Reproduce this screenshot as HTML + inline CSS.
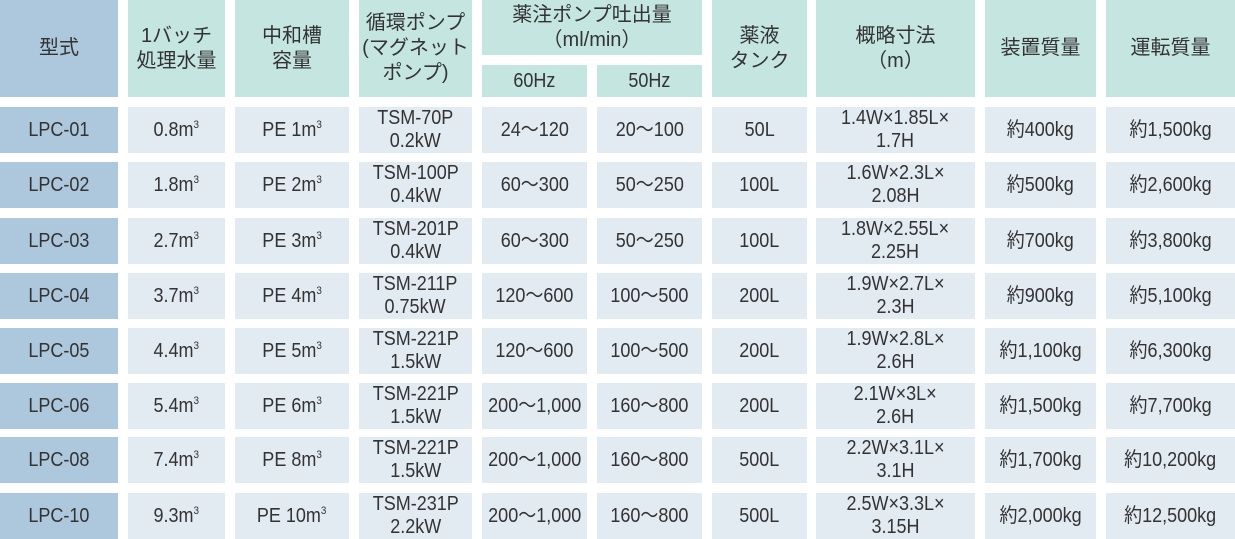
<!DOCTYPE html>
<html><head><meta charset="utf-8"><style>
body{margin:0;width:1235px;height:539px;background:#fff;position:relative;overflow:hidden;font-family:"Liberation Sans","Noto Sans CJK JP",sans-serif;color:#333;}
.c{position:absolute;display:flex;align-items:center;justify-content:center;text-align:center;font-size:20px;line-height:23px;background:#e2eaf2;white-space:nowrap;}
.c>span{display:inline-block;transform:scaleX(.9);}
.h{background:#c5e6e0;font-size:20px;line-height:25px;}
.h>span{transform:none;}
.h>span.n{transform:scaleX(.9);}
.m{background:#adc8dd;}
sup{font-size:11px;vertical-align:8px;line-height:0;}
</style></head><body>
<div class="c h" style="left:0;top:0;width:118px;height:97px;background:#adc8dd"><span>型式</span></div>
<div class="c h" style="left:128px;top:0;width:97px;height:97px"><span>1バッチ<br>処理水量</span></div>
<div class="c h" style="left:235px;top:0;width:114px;height:97px"><span>中和槽<br>容量</span></div>
<div class="c h" style="left:359px;top:0;width:113px;height:97px"><span>循環ポンプ<br>(マグネット<br>ポンプ)</span></div>
<div class="c h" style="left:482px;top:0;width:220px;height:55px"><span>薬注ポンプ吐出量<br>（ml/min）</span></div>
<div class="c h" style="left:482px;top:65px;width:105px;height:32px"><span class="n">60Hz</span></div>
<div class="c h" style="left:597px;top:65px;width:105px;height:32px"><span class="n">50Hz</span></div>
<div class="c h" style="left:712px;top:0;width:95px;height:97px"><span>薬液<br>タンク</span></div>
<div class="c h" style="left:816px;top:0;width:159px;height:97px"><span>概略寸法<br>（m）</span></div>
<div class="c h" style="left:985px;top:0;width:111px;height:97px"><span>装置質量</span></div>
<div class="c h" style="left:1106px;top:0;width:129px;height:97px"><span>運転質量</span></div>

<div class="c m" style="left:0;top:107px;width:118px;height:46px"><span>LPC-01</span></div>
<div class="c" style="left:128px;top:107px;width:97px;height:46px"><span>0.8m<sup>3</sup></span></div>
<div class="c" style="left:235px;top:107px;width:114px;height:46px"><span>PE 1m<sup>3</sup></span></div>
<div class="c" style="left:359px;top:107px;width:113px;height:46px"><span>TSM-70P<br>0.2kW</span></div>
<div class="c" style="left:482px;top:107px;width:105px;height:46px"><span>24～120</span></div>
<div class="c" style="left:597px;top:107px;width:105px;height:46px"><span>20～100</span></div>
<div class="c" style="left:712px;top:107px;width:95px;height:46px"><span>50L</span></div>
<div class="c" style="left:816px;top:107px;width:159px;height:46px"><span>1.4W×1.85L×<br>1.7H</span></div>
<div class="c" style="left:985px;top:107px;width:111px;height:46px"><span>約400kg</span></div>
<div class="c" style="left:1106px;top:107px;width:129px;height:46px"><span>約1,500kg</span></div>

<div class="c m" style="left:0;top:162px;width:118px;height:46px"><span>LPC-02</span></div>
<div class="c" style="left:128px;top:162px;width:97px;height:46px"><span>1.8m<sup>3</sup></span></div>
<div class="c" style="left:235px;top:162px;width:114px;height:46px"><span>PE 2m<sup>3</sup></span></div>
<div class="c" style="left:359px;top:162px;width:113px;height:46px"><span>TSM-100P<br>0.4kW</span></div>
<div class="c" style="left:482px;top:162px;width:105px;height:46px"><span>60～300</span></div>
<div class="c" style="left:597px;top:162px;width:105px;height:46px"><span>50～250</span></div>
<div class="c" style="left:712px;top:162px;width:95px;height:46px"><span>100L</span></div>
<div class="c" style="left:816px;top:162px;width:159px;height:46px"><span>1.6W×2.3L×<br>2.08H</span></div>
<div class="c" style="left:985px;top:162px;width:111px;height:46px"><span>約500kg</span></div>
<div class="c" style="left:1106px;top:162px;width:129px;height:46px"><span>約2,600kg</span></div>

<div class="c m" style="left:0;top:218px;width:118px;height:46px"><span>LPC-03</span></div>
<div class="c" style="left:128px;top:218px;width:97px;height:46px"><span>2.7m<sup>3</sup></span></div>
<div class="c" style="left:235px;top:218px;width:114px;height:46px"><span>PE 3m<sup>3</sup></span></div>
<div class="c" style="left:359px;top:218px;width:113px;height:46px"><span>TSM-201P<br>0.4kW</span></div>
<div class="c" style="left:482px;top:218px;width:105px;height:46px"><span>60～300</span></div>
<div class="c" style="left:597px;top:218px;width:105px;height:46px"><span>50～250</span></div>
<div class="c" style="left:712px;top:218px;width:95px;height:46px"><span>100L</span></div>
<div class="c" style="left:816px;top:218px;width:159px;height:46px"><span>1.8W×2.55L×<br>2.25H</span></div>
<div class="c" style="left:985px;top:218px;width:111px;height:46px"><span>約700kg</span></div>
<div class="c" style="left:1106px;top:218px;width:129px;height:46px"><span>約3,800kg</span></div>

<div class="c m" style="left:0;top:273px;width:118px;height:46px"><span>LPC-04</span></div>
<div class="c" style="left:128px;top:273px;width:97px;height:46px"><span>3.7m<sup>3</sup></span></div>
<div class="c" style="left:235px;top:273px;width:114px;height:46px"><span>PE 4m<sup>3</sup></span></div>
<div class="c" style="left:359px;top:273px;width:113px;height:46px"><span>TSM-211P<br>0.75kW</span></div>
<div class="c" style="left:482px;top:273px;width:105px;height:46px"><span>120～600</span></div>
<div class="c" style="left:597px;top:273px;width:105px;height:46px"><span>100～500</span></div>
<div class="c" style="left:712px;top:273px;width:95px;height:46px"><span>200L</span></div>
<div class="c" style="left:816px;top:273px;width:159px;height:46px"><span>1.9W×2.7L×<br>2.3H</span></div>
<div class="c" style="left:985px;top:273px;width:111px;height:46px"><span>約900kg</span></div>
<div class="c" style="left:1106px;top:273px;width:129px;height:46px"><span>約5,100kg</span></div>

<div class="c m" style="left:0;top:328px;width:118px;height:46px"><span>LPC-05</span></div>
<div class="c" style="left:128px;top:328px;width:97px;height:46px"><span>4.4m<sup>3</sup></span></div>
<div class="c" style="left:235px;top:328px;width:114px;height:46px"><span>PE 5m<sup>3</sup></span></div>
<div class="c" style="left:359px;top:328px;width:113px;height:46px"><span>TSM-221P<br>1.5kW</span></div>
<div class="c" style="left:482px;top:328px;width:105px;height:46px"><span>120～600</span></div>
<div class="c" style="left:597px;top:328px;width:105px;height:46px"><span>100～500</span></div>
<div class="c" style="left:712px;top:328px;width:95px;height:46px"><span>200L</span></div>
<div class="c" style="left:816px;top:328px;width:159px;height:46px"><span>1.9W×2.8L×<br>2.6H</span></div>
<div class="c" style="left:985px;top:328px;width:111px;height:46px"><span>約1,100kg</span></div>
<div class="c" style="left:1106px;top:328px;width:129px;height:46px"><span>約6,300kg</span></div>

<div class="c m" style="left:0;top:383px;width:118px;height:46px"><span>LPC-06</span></div>
<div class="c" style="left:128px;top:383px;width:97px;height:46px"><span>5.4m<sup>3</sup></span></div>
<div class="c" style="left:235px;top:383px;width:114px;height:46px"><span>PE 6m<sup>3</sup></span></div>
<div class="c" style="left:359px;top:383px;width:113px;height:46px"><span>TSM-221P<br>1.5kW</span></div>
<div class="c" style="left:482px;top:383px;width:105px;height:46px"><span>200～1,000</span></div>
<div class="c" style="left:597px;top:383px;width:105px;height:46px"><span>160～800</span></div>
<div class="c" style="left:712px;top:383px;width:95px;height:46px"><span>200L</span></div>
<div class="c" style="left:816px;top:383px;width:159px;height:46px"><span>2.1W×3L×<br>2.6H</span></div>
<div class="c" style="left:985px;top:383px;width:111px;height:46px"><span>約1,500kg</span></div>
<div class="c" style="left:1106px;top:383px;width:129px;height:46px"><span>約7,700kg</span></div>

<div class="c m" style="left:0;top:437px;width:118px;height:46px"><span>LPC-08</span></div>
<div class="c" style="left:128px;top:437px;width:97px;height:46px"><span>7.4m<sup>3</sup></span></div>
<div class="c" style="left:235px;top:437px;width:114px;height:46px"><span>PE 8m<sup>3</sup></span></div>
<div class="c" style="left:359px;top:437px;width:113px;height:46px"><span>TSM-221P<br>1.5kW</span></div>
<div class="c" style="left:482px;top:437px;width:105px;height:46px"><span>200～1,000</span></div>
<div class="c" style="left:597px;top:437px;width:105px;height:46px"><span>160～800</span></div>
<div class="c" style="left:712px;top:437px;width:95px;height:46px"><span>500L</span></div>
<div class="c" style="left:816px;top:437px;width:159px;height:46px"><span>2.2W×3.1L×<br>3.1H</span></div>
<div class="c" style="left:985px;top:437px;width:111px;height:46px"><span>約1,700kg</span></div>
<div class="c" style="left:1106px;top:437px;width:129px;height:46px"><span>約10,200kg</span></div>

<div class="c m" style="left:0;top:493px;width:118px;height:46px"><span>LPC-10</span></div>
<div class="c" style="left:128px;top:493px;width:97px;height:46px"><span>9.3m<sup>3</sup></span></div>
<div class="c" style="left:235px;top:493px;width:114px;height:46px"><span>PE 10m<sup>3</sup></span></div>
<div class="c" style="left:359px;top:493px;width:113px;height:46px"><span>TSM-231P<br>2.2kW</span></div>
<div class="c" style="left:482px;top:493px;width:105px;height:46px"><span>200～1,000</span></div>
<div class="c" style="left:597px;top:493px;width:105px;height:46px"><span>160～800</span></div>
<div class="c" style="left:712px;top:493px;width:95px;height:46px"><span>500L</span></div>
<div class="c" style="left:816px;top:493px;width:159px;height:46px"><span>2.5W×3.3L×<br>3.15H</span></div>
<div class="c" style="left:985px;top:493px;width:111px;height:46px"><span>約2,000kg</span></div>
<div class="c" style="left:1106px;top:493px;width:129px;height:46px"><span>約12,500kg</span></div>
</body></html>
